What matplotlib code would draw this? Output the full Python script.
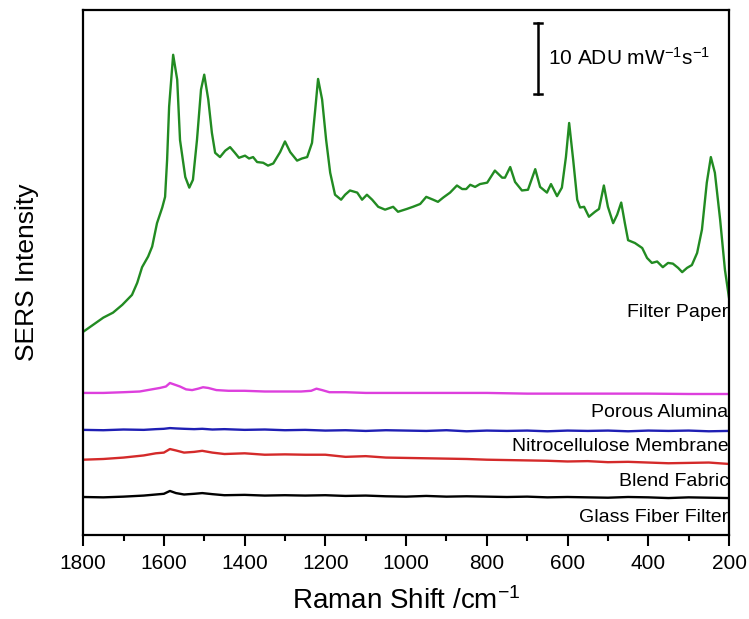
import matplotlib.pyplot as plt
import numpy as np

plt.rcParams["font.family"] = ["Liberation Sans", "DejaVu Sans"]
plt.rcParams["mathtext.default"] = "regular"
plt.rcParams["lines.solid_joinstyle"] = "round"

# SERS spectra, intensity in ADU mW^-1 s^-1 (traces stacked with offsets)
paper_shift = [1800, 1775, 1750, 1726, 1703, 1679, 1666, 1654, 1639, 1629, 1617, 1604,
               1597, 1592, 1587, 1577, 1567, 1560, 1547, 1537, 1528, 1518, 1508, 1500,
               1490, 1481, 1473, 1461, 1448, 1436, 1424, 1414, 1399, 1389, 1379, 1369,
               1354, 1342, 1329, 1312, 1300, 1287, 1270, 1258, 1245, 1233, 1225, 1218,
               1208, 1198, 1188, 1176, 1161, 1151, 1139, 1121, 1109, 1097, 1084, 1069,
               1052, 1032, 1020, 998, 983, 965, 950, 933, 921, 908, 891, 874, 861, 851,
               841, 829, 817, 799, 780, 762, 755, 742, 730, 713, 698, 680, 668, 651, 641,
               626, 614, 604, 596, 586, 576, 569, 559, 547, 532, 522, 510, 500, 487, 477,
               467, 458, 450, 433, 415, 403, 391, 378, 364, 351, 339, 326, 316, 304, 292,
               279, 267, 255, 245, 235, 222, 210, 200]
paper_int = [28.6, 29.6, 30.6, 31.3, 32.4, 33.8, 35.5, 37.7, 39.2, 40.6, 43.9, 46.1,
             47.6, 52.8, 60.3, 67.6, 64.1, 55.6, 50.4, 48.9, 50.0, 55.6, 62.7, 64.8,
             61.3, 56.6, 53.8, 53.2, 54.1, 54.6, 53.8, 53.1, 53.4, 53.0, 53.2, 52.5,
             52.4, 52.0, 52.3, 53.9, 55.4, 53.9, 52.7, 53.0, 53.2, 55.2, 59.9, 64.2,
             61.3, 55.6, 51.0, 47.9, 47.2, 47.9, 48.5, 48.2, 47.2, 47.9, 47.2, 46.2,
             45.8, 46.2, 45.5, 45.9, 46.2, 46.6, 47.6, 47.2, 46.9, 47.5, 48.2, 49.2,
             48.7, 48.7, 49.3, 49.0, 49.4, 49.6, 51.3, 50.3, 50.3, 51.8, 49.7, 48.5,
             48.6, 51.5, 49.0, 48.2, 49.4, 47.7, 48.9, 53.2, 58.0, 52.8, 47.2, 46.1,
             46.2, 44.8, 45.5, 45.9, 49.2, 46.2, 43.9, 45.1, 46.8, 43.9, 41.5, 41.1,
             40.4, 39.0, 38.3, 38.5, 37.7, 38.3, 38.2, 37.6, 37.0, 37.6, 38.0, 39.7,
             43.0, 49.6, 53.2, 51.0, 44.4, 37.3, 33.4]

alumina_shift = [1800, 1750, 1700, 1660, 1630, 1610, 1595, 1585, 1575, 1560, 1545, 1530,
                 1515, 1503, 1490, 1470, 1440, 1400, 1350, 1300, 1260, 1235, 1222, 1208,
                 1190, 1150, 1100, 1000, 900, 800, 700, 600, 500, 400, 300, 200]
alumina_int = [20.0, 20.0, 20.1, 20.2, 20.5, 20.7, 20.9, 21.4, 21.2, 20.9, 20.5, 20.4,
               20.6, 20.8, 20.7, 20.4, 20.3, 20.3, 20.2, 20.2, 20.2, 20.3, 20.6, 20.4,
               20.1, 20.1, 20.0, 20.0, 20.0, 20.0, 19.9, 19.9, 19.9, 19.9, 19.85, 19.85]

grid_shift = [1800, 1750, 1700, 1650, 1620, 1600, 1585, 1570, 1550, 1525, 1505, 1480,
              1450, 1400, 1350, 1300, 1250, 1200, 1150, 1100, 1050, 1000, 950, 900, 850,
              800, 750, 700, 650, 600, 550, 500, 450, 400, 350, 300, 250, 200]
nitro_int = [14.8, 14.75, 14.85, 14.8, 14.9, 14.95, 15.05, 15.0, 14.95, 14.9, 14.95,
             14.85, 14.9, 14.8, 14.85, 14.75, 14.8, 14.7, 14.75, 14.65, 14.75, 14.7,
             14.65, 14.75, 14.6, 14.7, 14.65, 14.7, 14.6, 14.7, 14.65, 14.7, 14.6, 14.7,
             14.65, 14.7, 14.6, 14.65]
fabric_int = [10.6, 10.7, 10.9, 11.2, 11.5, 11.6, 12.1, 11.9, 11.6, 11.7, 11.85, 11.6,
              11.4, 11.5, 11.3, 11.35, 11.3, 11.3, 11.0, 11.1, 10.9, 10.85, 10.8, 10.75,
              10.7, 10.6, 10.55, 10.5, 10.45, 10.35, 10.4, 10.25, 10.3, 10.2, 10.1,
              10.15, 10.2, 10.0]
glass_int = [5.35, 5.3, 5.4, 5.55, 5.7, 5.8, 6.2, 5.9, 5.7, 5.8, 5.9, 5.75, 5.6, 5.65,
             5.55, 5.6, 5.55, 5.6, 5.5, 5.55, 5.45, 5.4, 5.5, 5.4, 5.45, 5.4, 5.35, 5.4,
             5.3, 5.35, 5.3, 5.25, 5.35, 5.3, 5.2, 5.3, 5.25, 5.2]

labels = ["Filter Paper", "Porous Alumina", "Nitrocellulose Membrane", "Blend Fabric",
          "Glass Fiber Filter"]
label_y = [31.3, 17.3, 12.4, 7.6, 2.5]

fig = plt.figure(figsize=(7.49, 6.19), dpi=100)
ax = fig.add_axes([0.111, 0.1357, 0.8623, 0.8481])

ax.plot(paper_shift, paper_int, color="#228b22", lw=1.7)
ax.plot(alumina_shift, alumina_int, color="#dd3fdd", lw=1.7)
ax.plot(grid_shift, nitro_int, color="#1f1fb4", lw=1.7)
ax.plot(grid_shift, fabric_int, color="#d42a2a", lw=1.7)
ax.plot(grid_shift, glass_int, color="black", lw=1.7)

for text, y in zip(labels, label_y):
    ax.text(201, y, text, ha="right", va="center", fontsize=14)

# 10 ADU scale bar
bar_x, bar_lo, bar_hi = 673, 62.1, 72.1
ax.plot([bar_x, bar_x], [bar_lo, bar_hi], color="black", lw=1.8)
ax.plot([bar_x + 9, bar_x - 9], [bar_hi, bar_hi], color="black", lw=1.8)
ax.plot([bar_x + 9, bar_x - 9], [bar_lo, bar_lo], color="black", lw=1.8)
ax.text(bar_x - 25, (bar_lo + bar_hi) / 2, "10 ADU mW$^{-1}$s$^{-1}$",
        ha="left", va="center", fontsize=15)

ax.set_xlim(1800, 200)
ax.set_ylim(0, 73.9)
ax.set_xticks(np.arange(1800, 199, -200))
ax.set_xticks(np.arange(1700, 200, -200), minor=True)
ax.set_yticks([])
ax.tick_params(axis="x", which="major", direction="out", length=8, width=1.5,
               labelsize=15, pad=6)
ax.tick_params(axis="x", which="minor", direction="out", length=4, width=1.5)
for sp in ax.spines.values():
    sp.set_linewidth(1.6)

ax.set_xlabel("Raman Shift /cm$^{-1}$", fontsize=20, labelpad=10)
ax.set_ylabel("SERS Intensity", fontsize=19, labelpad=32)

fig.savefig("out.png", dpi=100)
